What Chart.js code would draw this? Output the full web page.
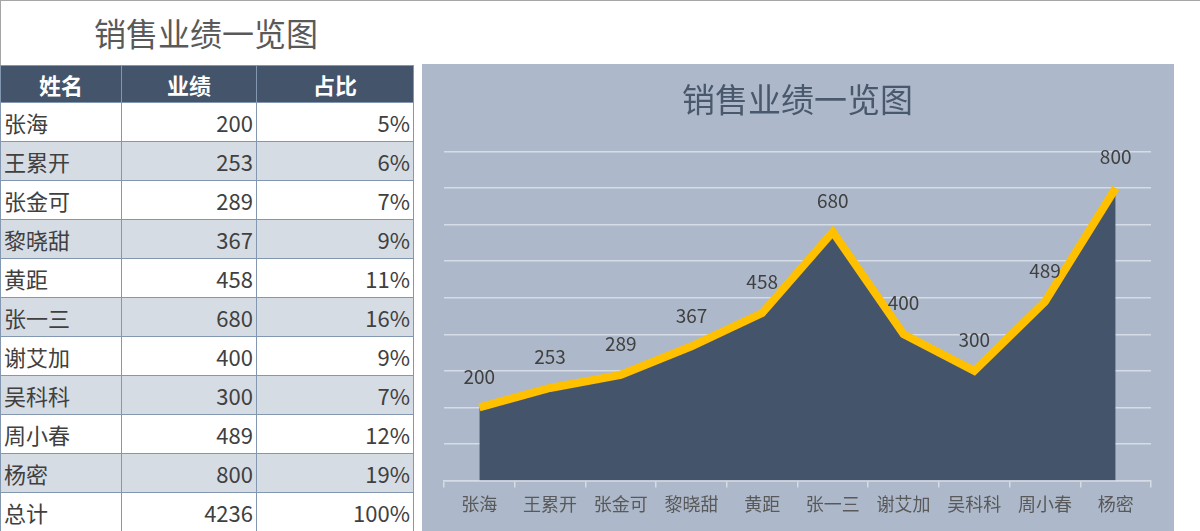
<!DOCTYPE html>
<html><head><meta charset="utf-8">
<script src="https://cdn.jsdelivr.net/npm/chart.js@4.4.0/dist/chart.umd.min.js"></script>
<style>
html,body{margin:0;padding:0;background:#fff;}
body{width:1200px;height:531px;position:relative;overflow:hidden;font-family:"Noto Sans CJK SC","Noto Sans",sans-serif;}
#frame{position:absolute;left:0;top:0;width:1199px;height:530px;border-top:1px solid #a6a6a6;border-left:1px solid #a6a6a6;}
#pageTitle{position:absolute;left:0;top:10px;width:412px;text-align:center;font-size:32px;line-height:44px;color:#595959;}
#tbl{position:absolute;left:0;top:65px;border-collapse:collapse;table-layout:fixed;}
#tbl td,#tbl th{border:1px solid #8497b0;height:39px;padding:0 3px;font-size:22px;color:#404040;font-weight:normal;box-sizing:border-box;line-height:1;}
#tbl th{background:#44546a;color:#fff;font-weight:bold;text-align:center;height:37px;}
#tbl td.n{text-align:right;}
#tbl tr.alt td{background:#d6dce4;}
#box{position:absolute;left:422px;top:64px;width:752px;height:467px;background:#adb9ca;}
</style></head>
<body>
<div id="frame"></div>
<div id="pageTitle">销售业绩一览图</div>
<table id="tbl"><colgroup><col style="width:121px"><col style="width:135px"><col style="width:157px"></colgroup><thead><tr><th>姓名</th><th>业绩</th><th>占比</th></tr></thead><tbody id="tb"></tbody></table>
<div id="box"><canvas id="c" width="752" height="467"></canvas></div>
<script>
const names = ["张海","王累开","张金可","黎晓甜","黄距","张一三","谢艾加","吴科科","周小春","杨密"];
const sales = [200,253,289,367,458,680,400,300,489,800];
const shares = ["5%","6%","7%","9%","11%","16%","9%","7%","12%","19%"];
const totalLabel = "总计";
const totalValue = "4236";
const totalShare = "100%";
const headers = ["姓名","业绩","占比"];
const chartTitle = "销售业绩一览图";
const yTicks = [0,100,200,300,400,500,600,700,800,900];

const tb = document.getElementById('tb');
names.forEach((n,i)=>{
  const tr=document.createElement('tr');
  if(i%2===1) tr.className='alt';
  tr.innerHTML='<td>'+n+'</td><td class="n">'+sales[i]+'</td><td class="n">'+shares[i]+'</td>';
  tb.appendChild(tr);
});
const trT=document.createElement('tr');
trT.innerHTML='<td>'+totalLabel+'</td><td class="n">'+totalValue+'</td><td class="n">'+totalShare+'</td>';
tb.appendChild(trT);

const labelPlugin = {
  id:'valLabels',
  afterDatasetsDraw(chart){
    const ctx=chart.ctx;
    const meta=chart.getDatasetMeta(0);
    ctx.save();
    ctx.font='19px "Noto Sans CJK SC","Noto Sans",sans-serif';
    ctx.fillStyle='#404040';
    ctx.textAlign='center';
    ctx.textBaseline='middle';
    meta.data.forEach((p,i)=>{
      ctx.fillText(String(chart.data.datasets[0].data[i]), p.x, p.y-31);
    });
    ctx.restore();
  }
};

new Chart(document.getElementById('c'),{
  type:'line',
  data:{labels:names,datasets:[{
    data:sales,
    borderColor:'#ffc000',
    backgroundColor:'#44546a',
    borderWidth:8,
    borderJoinStyle:'miter',
    fill:'origin',
    tension:0,
    pointRadius:0,
    pointHoverRadius:0
  }]},
  options:{
    responsive:false,
    animation:false,
    devicePixelRatio:1,
    layout:{padding:{left:22,right:23,top:0,bottom:10}},
    plugins:{
      legend:{display:false},
      tooltip:{enabled:false},
      title:{display:true,text:chartTitle,color:'#4a586d',
        font:{size:33,family:'"Noto Sans CJK SC","Noto Sans",sans-serif',weight:'normal',lineHeight:1.2},
        padding:{top:16,bottom:32}}
    },
    scales:{
      x:{
        offset:true,
        grid:{display:true,drawOnChartArea:false,drawTicks:true,tickLength:7,color:'#d6dce5',lineWidth:1.5,offset:true},
        border:{display:true,color:'#d6dce5',width:1.5},
        ticks:{color:'#595959',padding:6,font:{size:18,family:'"Noto Sans CJK SC","Noto Sans",sans-serif'},maxRotation:0,autoSkip:false}
      },
      y:{
        min:yTicks[0],max:yTicks[yTicks.length-1],
        afterBuildTicks(s){s.ticks=yTicks.map(v=>({value:v}));},
        afterFit(s){s.width=0;},
        ticks:{display:false},
        border:{display:false},
        grid:{color:'#d6dce5',lineWidth:1.5,drawTicks:false}
      }
    }
  },
  plugins:[labelPlugin]
});
</script>
</body></html>
